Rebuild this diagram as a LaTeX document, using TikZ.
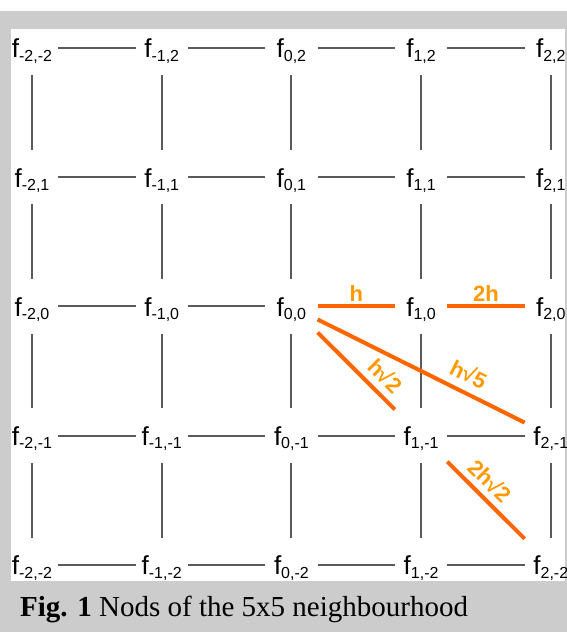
\documentclass[tikz,border=0pt]{standalone}
\usepackage{fontspec}
\setmainfont{Liberation Serif}
\newfontfamily\arial{Liberation Sans}
\usetikzlibrary{positioning}
\definecolor{framegray}{HTML}{CCCCCC}
\definecolor{linegray}{HTML}{5A5A5A}
\definecolor{measorange}{HTML}{FF6600}
\definecolor{labelorange}{HTML}{FF9900}
\newcommand{\gridfont}{\arial\fontsize{26}{30}\selectfont}
\newcommand{\measfont}{\arial\bfseries\fontsize{22}{26}\selectfont}
\newcommand{\fsub}[1]{f\raisebox{-3.4pt}{\fontsize{16}{18}\selectfont #1}}
\tikzstyle{pt}=[rectangle,inner sep=0pt,minimum width=52pt,minimum height=54pt,text height=20pt,text depth=0pt,font=\gridfont]
\tikzstyle{link}=[line width=2pt,draw=linegray]
\tikzstyle{meas}=[line width=4pt,draw=measorange]
\tikzstyle{dist}=[font=\measfont,text=labelorange,inner sep=3pt]

\begin{document}
\begin{tikzpicture}[x=1pt,y=1pt,node distance=74.8pt and 77.3pt]
\useasboundingbox (0,0) rectangle (567,632);
\fill[framegray] (0,0) rectangle (567,621);
\fill[white] (11,51) rectangle (565,603);
% grid points
\node[pt] (a2) at (32,584) {\fsub{-2,-2}};
\node[pt, right=of a2] (b2) {\fsub{-1,2}};
\node[pt, right=of b2] (c2) {\fsub{0,2}};
\node[pt, right=of c2] (d2) {\fsub{1,2}};
\node[pt, right=of d2] (e2) {\fsub{2,2}};
\node[pt, below=of a2] (a1) {\fsub{-2,1}};
\node[pt, right=of a1] (b1) {\fsub{-1,1}};
\node[pt, right=of b1] (c1) {\fsub{0,1}};
\node[pt, right=of c1] (d1) {\fsub{1,1}};
\node[pt, right=of d1] (e1) {\fsub{2,1}};
\node[pt, below=of a1] (a0) {\fsub{-2,0}};
\node[pt, right=of a0] (b0) {\fsub{-1,0}};
\node[pt, right=of b0] (c0) {\fsub{0,0}};
\node[pt, right=of c0] (d0) {\fsub{1,0}};
\node[pt, right=of d0] (e0) {\fsub{2,0}};
\node[pt, below=of a0] (am1) {\fsub{-2,-1}};
\node[pt, right=of am1] (bm1) {\fsub{-1,-1}};
\node[pt, right=of bm1] (cm1) {\fsub{0,-1}};
\node[pt, right=of cm1] (dm1) {\fsub{1,-1}};
\node[pt, right=of dm1] (em1) {\fsub{2,-1}};
\node[pt, below=of am1] (am2) {\fsub{-2,-2}};
\node[pt, right=of am2] (bm2) {\fsub{-1,-2}};
\node[pt, right=of bm2] (cm2) {\fsub{0,-2}};
\node[pt, right=of cm2] (dm2) {\fsub{1,-2}};
\node[pt, right=of dm2] (em2) {\fsub{2,-2}};
% rows
\draw[link] (a2) -- (b2) -- (c2) -- (d2) -- (e2);
\draw[link] (a1) -- (b1) -- (c1) -- (d1) -- (e1);
\draw[link] (a0) -- (b0) -- (c0);
\draw[link] (am1) -- (bm1) -- (cm1) -- (dm1) -- (em1);
\draw[link] (am2) -- (bm2) -- (cm2) -- (dm2) -- (em2);
% columns
\draw[link] (a2) -- (a1) -- (a0) -- (am1) -- (am2);
\draw[link] (b2) -- (b1) -- (b0) -- (bm1) -- (bm2);
\draw[link] (c2) -- (c1) -- (c0) -- (cm1) -- (cm2);
\draw[link] (d2) -- (d1) -- (d0) -- (dm1) -- (dm2);
\draw[link] (e2) -- (e1) -- (e0) -- (em1) -- (em2);
% distances
\draw[meas] (c0) -- node[dist, above] {h} (d0);
\draw[meas] (d0) -- node[dist, above] {2h} (e0);
\draw[meas] (c0) -- node[dist, above=4pt, sloped, pos=0.72] {h√2} (dm1);
\draw[meas] (c0) -- node[dist, above=5pt, sloped, pos=0.69] {h√5} (em1);
\draw[meas] (dm1) -- node[dist, above=3pt, sloped, pos=0.4] {2h√2} (em2);
\node[anchor=base west, inner sep=0pt, font=\fontsize{29}{34}\selectfont] (cap) at (20,15) {\textbf{Fig. 1} Nods of the 5x5 neighbourhood};
\end{tikzpicture}
\end{document}
